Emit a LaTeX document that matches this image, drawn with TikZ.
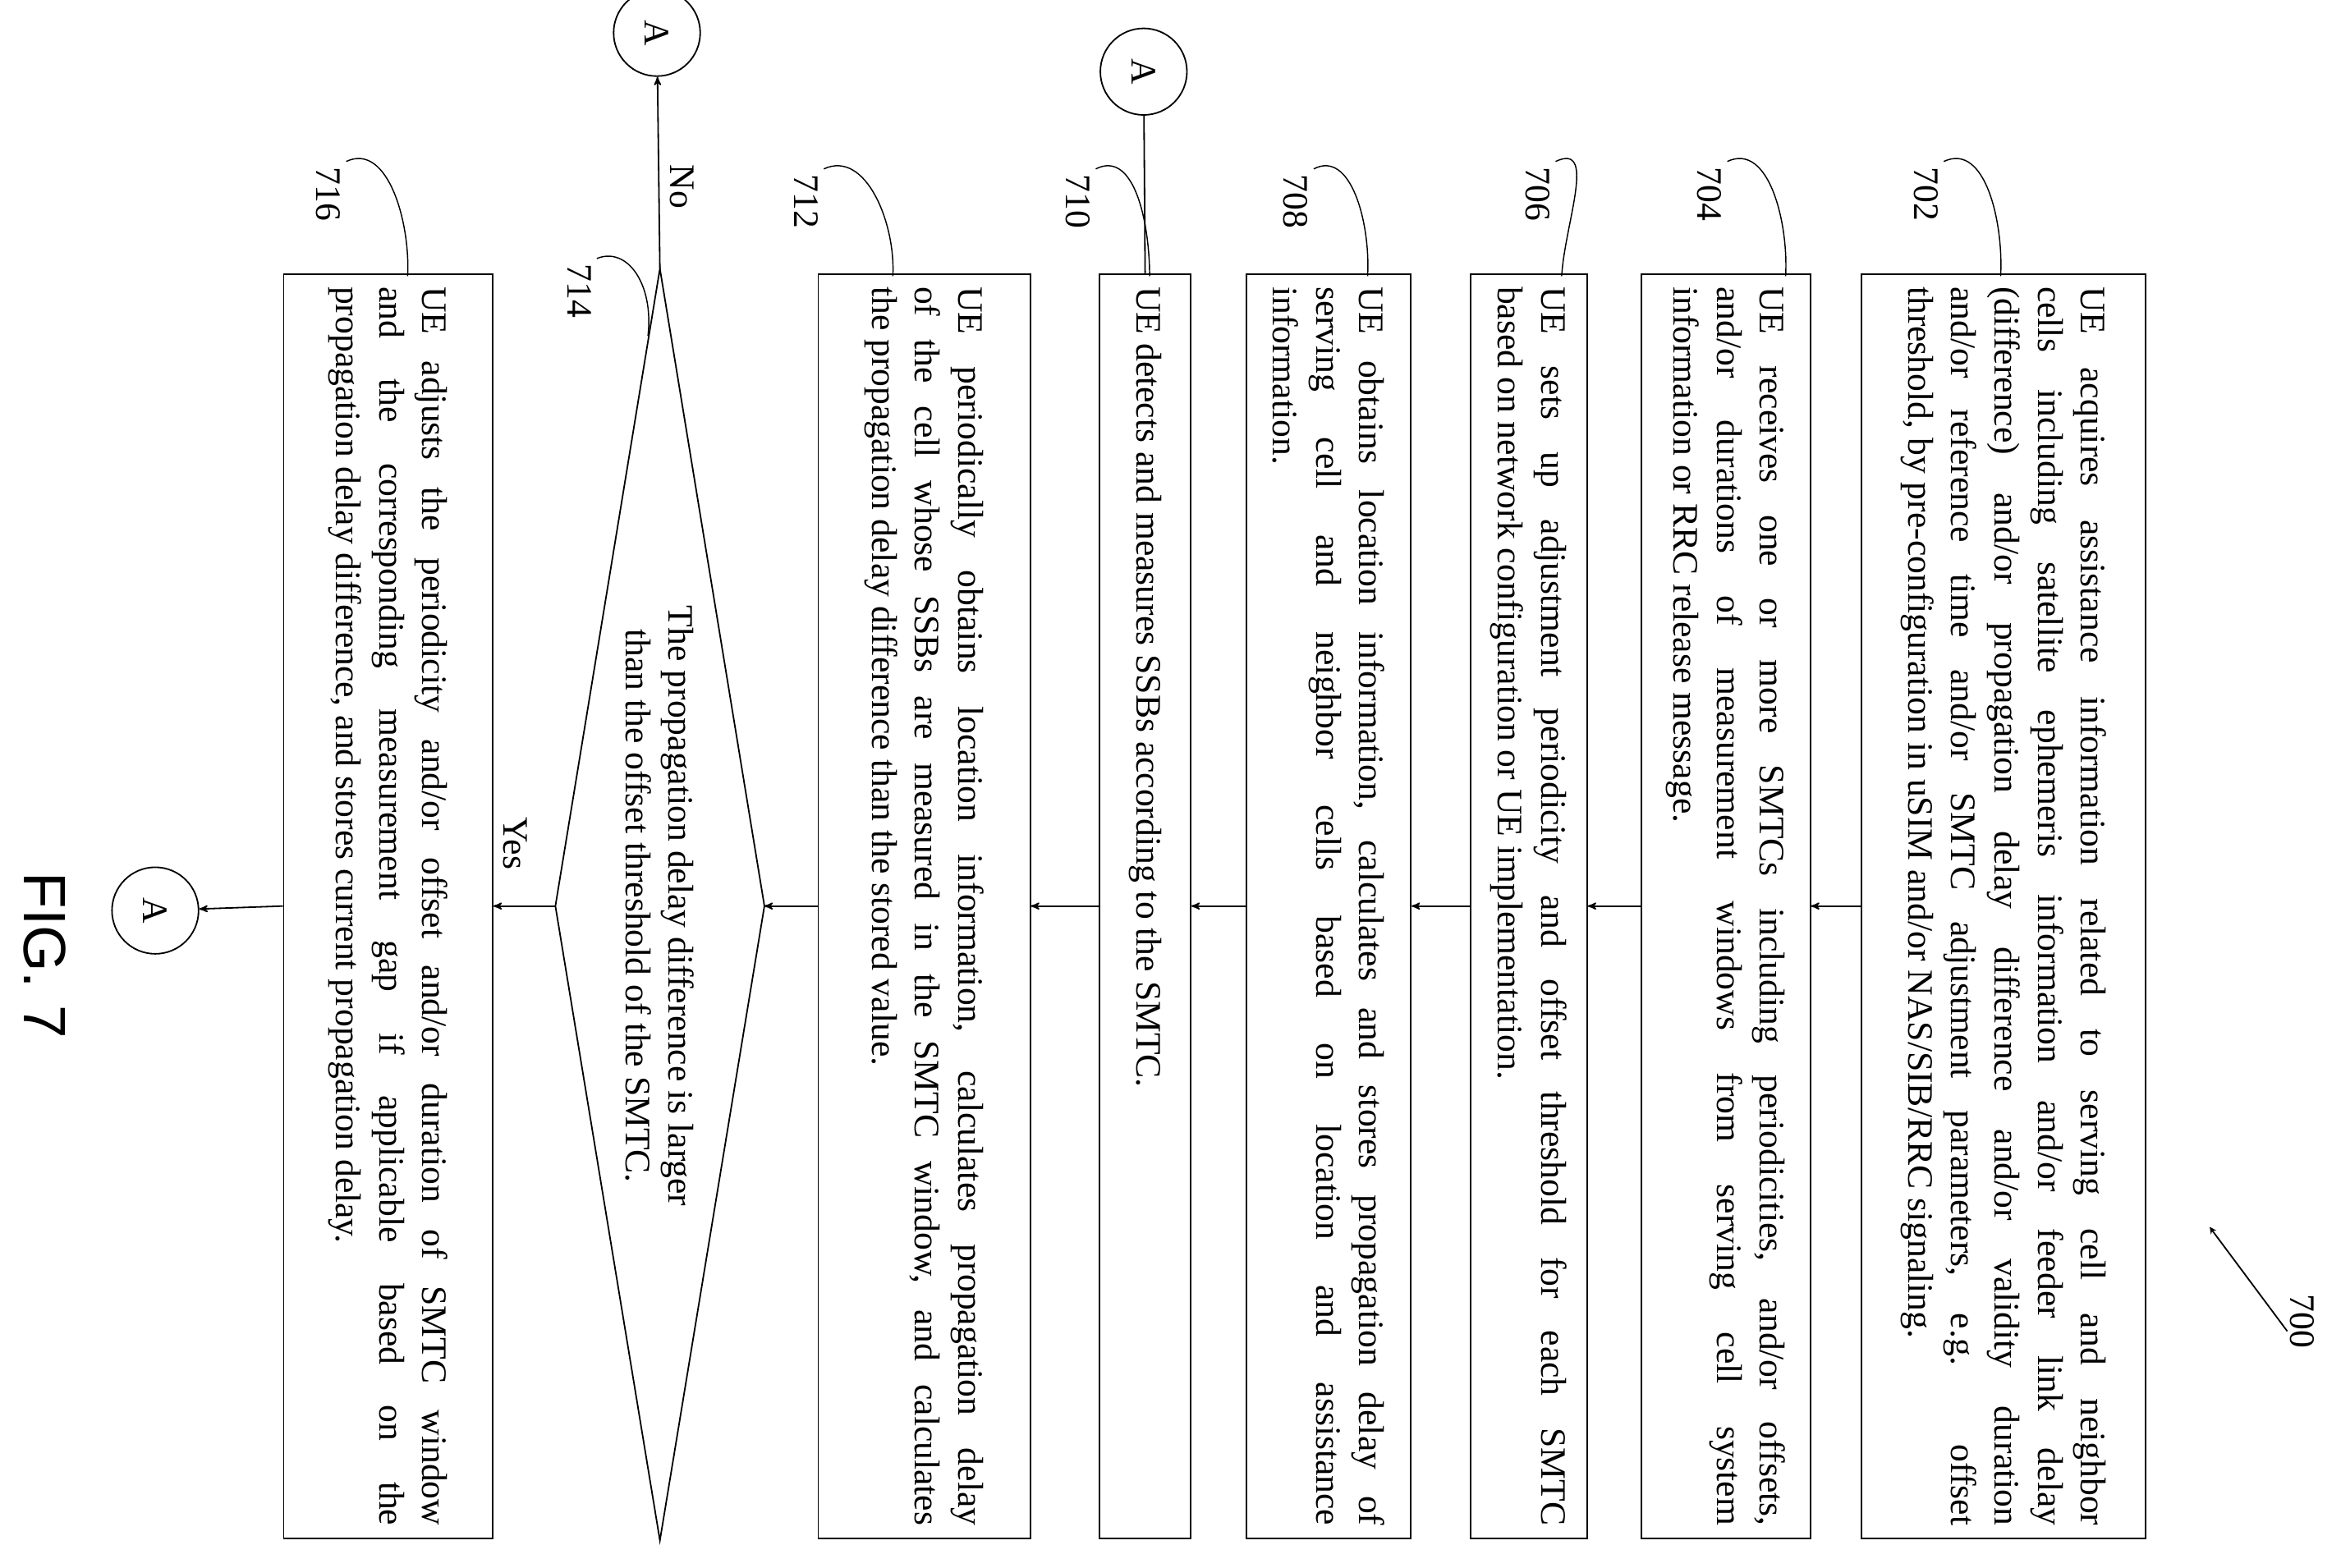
\documentclass[tikz,border=0pt]{standalone}
\usepackage{fontspec}
\setmainfont{Liberation Serif}
\newfontfamily\figfont{Liberation Sans}
\usetikzlibrary{arrows}

\begin{document}
\begin{tikzpicture}[x=1pt,y=-1pt,->,>=stealth',line width=1pt,
    step box/.style={draw,rectangle,rotate=-90,minimum width=847pt,inner sep=6pt,
      text width=830pt,align=justify,font=\fontsize{24}{29}\selectfont},
    conn/.style={circle,draw,rotate=-90,minimum size=58pt,inner sep=0pt,font=\fontsize{24}{28}\selectfont},
    num/.style={rotate=-90,font=\fontsize{24}{28}\selectfont},
    lead/.style={-,line width=0.8pt}]

  \useasboundingbox (0,0) rectangle (1568,1050);

  \node[step box,minimum height=190pt] (702) at (1342,607) {UE acquires assistance information related to serving cell and neighbor\linebreak cells including satellite ephemeris information and/or feeder link delay\linebreak (difference) and/or propagation delay difference and/or validity duration\linebreak and/or reference time and/or SMTC adjustment parameters, e.g. offset\linebreak threshold, by pre-configuration in uSIM and/or NAS/SIB/RRC signaling.};
  \node[step box,minimum height=113pt] (704) at (1156,607) {UE receives one or more SMTCs including periodicities, and/or offsets,\linebreak and/or durations of measurement windows from serving cell system\linebreak information or RRC release message.};
  \node[step box,minimum height=78pt] (706) at (1024,607) {UE sets up adjustment periodicity and offset threshold for each SMTC\linebreak based on network configuration or UE implementation.};
  \node[step box,minimum height=110pt] (708) at (890,607) {UE obtains location information, calculates and stores propagation delay of\linebreak serving cell and neighbor cells based on location and assistance\linebreak information.};
  \node[step box,minimum height=61pt] (710) at (767,607) {UE detects and measures SSBs according to the SMTC.};
  \node[step box,minimum height=142pt] (712) at (619,607) {UE periodically obtains location information, calculates propagation delay\linebreak of the cell whose SSBs are measured in the SMTC window, and calculates\linebreak the propagation delay difference than the stored value.};
  \node[step box,minimum height=140pt] (716) at (260,607) {UE adjusts the periodicity and/or offset and/or duration of SMTC window\linebreak and the corresponding measurement gap if applicable based on the\linebreak propagation delay difference, and stores current propagation delay.};

  % decision 714
  \coordinate (d714t) at (442,180);
  \coordinate (d714b) at (442,1032);
  \coordinate (d714l) at (372,607);
  \coordinate (d714r) at (512,607);
  \draw[-] (d714t) -- (d714r) -- (d714b) -- (d714l) -- cycle;
  \node[rotate=-90,align=center,font=\fontsize{24}{29}\selectfont] (714) at (442,607)
        {The propagation delay difference is larger\\than the offset threshold of the SMTC.};

  \node[conn] (a1) at (440,22) {A};
  \node[conn] (a2) at (766,48) {A};
  \node[conn] (a3) at (104,610) {A};

  \draw (702.south) -- (704.north);
  \draw (704.south) -- (706.north);
  \draw (706.south) -- (708.north);
  \draw (708.south) -- (710.north);
  \draw (710.south) -- (712.north);
  \draw (712.south) -- (d714r);
  \draw (d714l) -- (716.north);
  \draw (716.south) -- (a3);
  \draw (d714t) -- (a1);
  \draw[-] (710.west) -- (a2);
  \node[num] (yes) at (345,565) {Yes};
  \node[num] (no) at (457,125) {No};

  % reference numerals
  \node[num] (l702) at (1290,130) {702};
  \node[num] (l704) at (1145,130) {704};
  \node[num] (l706) at (1030,130) {706};
  \node[num] (l708) at (868,135) {708};
  \node[num] (l710) at (722,135) {710};
  \node[num] (l712) at (540,135) {712};
  \node[num] (l714) at (388,195) {714};
  \node[num] (l716) at (220,130) {716};
  \draw[lead] (l702.north west) .. controls (1330,95) and (1342,150) .. (1340,185);
  \draw[lead] (l704.north west) .. controls (1185,95) and (1198,150) .. (1196,185);
  \draw[lead] (l706.north west) .. controls (1070,95) and (1048,150) .. (1046,185);
  \draw[lead] (l708.north west) .. controls (905,100) and (918,150) .. (916,185);
  \draw[lead] (l710.north west) .. controls (760,100) and (770,150) .. (770,185);
  \draw[lead] (l712.north west) .. controls (580,100) and (600,150) .. (598,185);
  \draw[lead] (l714.north west) .. controls (420,165) and (438,190) .. (434,225);
  \draw[lead] (l716.north west) .. controls (260,95) and (275,150) .. (273,185);

  \node[num] (l700) at (1542,885) {700};
  \coordinate (t700) at (1480,822);
  \draw[-stealth] (l700.east) ++(-10,-15) -- (t700);

  \node[rotate=-90,font=\figfont\fontsize{40}{44}\selectfont] (fig) at (30,640) {FIG. 7};
\end{tikzpicture}
\end{document}
